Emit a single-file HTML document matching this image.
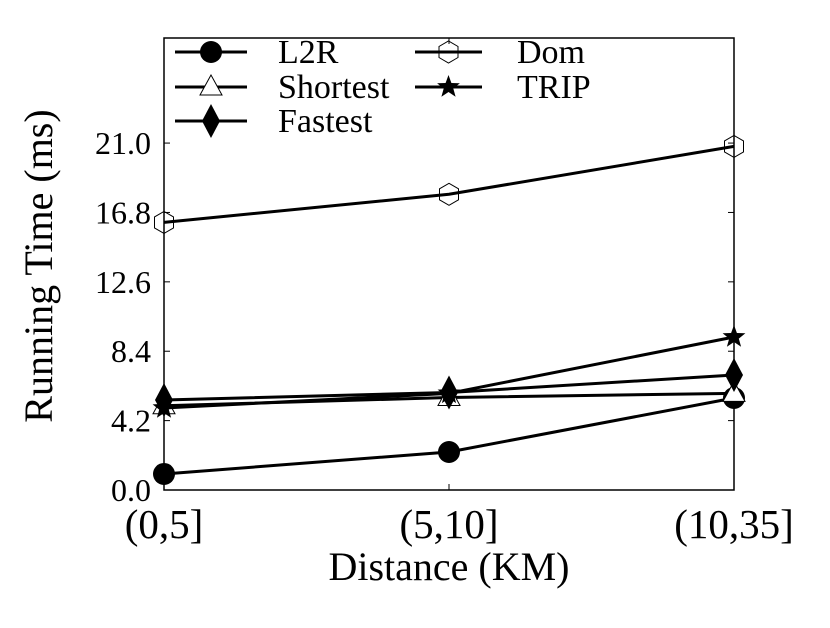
<!DOCTYPE html>
<html><head><meta charset="utf-8"><style>
body{margin:0;background:#fff}
text{font-family:"Liberation Serif","Times New Roman",serif !important;fill:#000}
</style></head><body>
<svg id="chart" width="830" height="623" xmlns="http://www.w3.org/2000/svg" font-family="Liberation Serif, serif">
<g id="plot"></g>
</svg>
<script>
const categories=["(0,5]","(5,10]","(10,35]"];
const yTicks=[0.0,4.2,8.4,12.6,16.8,21.0];
const l2r=[0.97,2.3,5.57];
const shortest=[5.1,5.6,5.85];
const fastest=[5.45,5.9,6.96];
const dom=[16.2,17.9,20.8];
const trip=[4.96,5.85,9.26];
const L=164,R=734,T=38,B=490,YMAX=27.36;
const NS="http://www.w3.org/2000/svg";
const g=document.getElementById('plot');
function X(i){return L+(R-L)*i/(categories.length-1);}
function Y(v){return B-(B-T)*v/YMAX;}
function mk(tag,a,p){const e=document.createElementNS(NS,tag);for(const k in a)e.setAttribute(k,a[k]);if(tag==='text')e.setAttribute('style','font-family:"Liberation Serif",serif');(p||g).appendChild(e);return e;}
function marker(type,x,y,p){
  let e;
  if(type==='circle'){e=mk('circle',{cx:x,cy:y,r:11,fill:'#000'},p);}
  else if(type==='tri'){e=mk('polygon',{points:`${x},${y-12} ${x-11},${y+8} ${x+11},${y+8}`,fill:'#fff',stroke:'#000','stroke-width':1},p);}
  else if(type==='diamond'){e=mk('polygon',{points:`${x},${y-17} ${x+9},${y} ${x},${y+17} ${x-9},${y}`,fill:'#000'},p);}
  else if(type==='hex'){let pts=[];for(let k=0;k<6;k++){const a=Math.PI/3*k+Math.PI/6;pts.push((x+11*Math.cos(a)).toFixed(1)+','+(y+11*Math.sin(a)).toFixed(1));}e=mk('polygon',{points:pts.join(' '),fill:'none',stroke:'#000','stroke-width':1},p);}
  else {let pts=[];for(let k=0;k<10;k++){const r=k%2?5:12;const a=-Math.PI/2+Math.PI/5*k;pts.push((x+r*Math.cos(a)).toFixed(1)+','+(y+r*Math.sin(a)).toFixed(1));}e=mk('polygon',{points:pts.join(' '),fill:'#000'},p);}
  return e;
}
const frame=mk('rect',{x:L,y:T,width:R-L,height:B-T,fill:'none',stroke:'#000','stroke-width':1.5});


yTicks.forEach(v=>{
  mk('line',{x1:L,x2:L+6,y1:Y(v),y2:Y(v),stroke:'#000'});
  mk('line',{x1:R,x2:R-6,y1:Y(v),y2:Y(v),stroke:'#000'});
  const t=mk('text',{x:L-13,y:Y(v)+11,'text-anchor':'end','font-size':32});
  t.textContent=v.toFixed(1);
  
  
});
categories.forEach((c,i)=>{
  mk('line',{x1:X(i),x2:X(i),y1:B,y2:B-6,stroke:'#000'});
  mk('line',{x1:X(i),x2:X(i),y1:T,y2:T+6,stroke:'#000'});
  const t=mk('text',{x:X(i),y:538,'text-anchor':'middle','font-size':41});
  t.textContent=c;
  
  
});
const xt=mk('text',{x:449,y:580,'text-anchor':'middle','font-size':40});
xt.textContent='Distance (KM)';


const yt=mk('text',{x:0,y:0,'text-anchor':'middle','font-size':40,transform:'translate(52,266) rotate(-90)'});
yt.textContent='Running Time (ms)';


const series=[["L2R",l2r,'circle'],["Shortest",shortest,'tri'],["Fastest",fastest,'diamond'],["Dom",dom,'hex'],["TRIP",trip,'star']];
series.forEach(s=>{
  const sg=mk('g',{});
  
  
  mk('polyline',{points:s[1].map((v,i)=>X(i)+','+Y(v)).join(' '),fill:'none',stroke:'#000','stroke-width':3},sg);
  s[1].forEach((v,i)=>{const m=marker(s[2],X(i),Y(v),sg);});
});
const leg=[[0,52],[1,87],[2,121],[3,52],[4,87]];
const lg=mk('g',{});


leg.forEach(([si,y])=>{
  const s=series[si];const col=si<3?0:1;
  const x0=col?415:175,x1=col?482:247,tx=col?517:278;
  const eg=mk('g',{},lg);
  
  
  mk('line',{x1:x0,x2:x1,y1:y,y2:y,stroke:'#000','stroke-width':3},eg);
  marker(s[2],(x0+x1)/2,y,eg);
  const t=mk('text',{x:tx,y:y+11,'font-size':34},eg);
  t.textContent=s[0];
});
</script>
</body></html>
